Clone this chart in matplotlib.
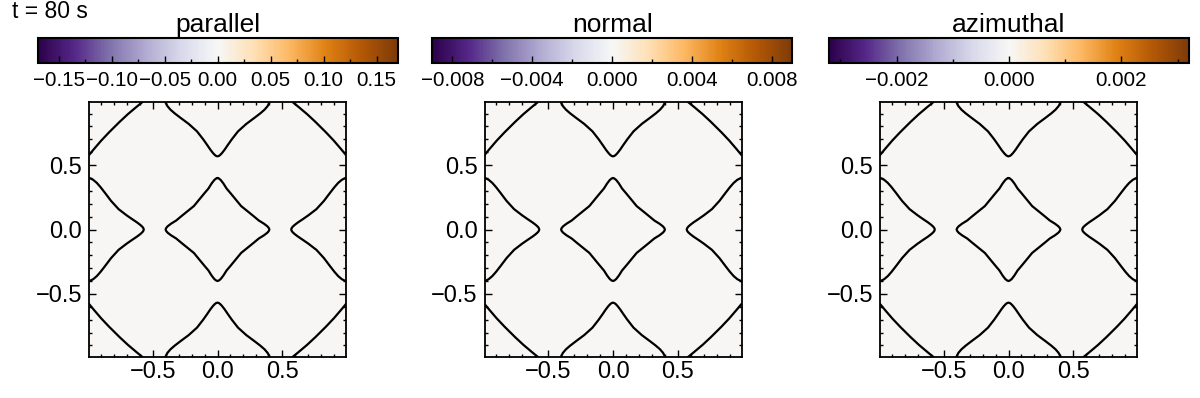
# -*- coding: utf-8 -*-
import numpy as np
import matplotlib
matplotlib.use('Agg')
import matplotlib.pyplot as plt
from matplotlib.colors import Normalize
from matplotlib.cm import ScalarMappable
from matplotlib.ticker import MultipleLocator

plt.rcParams['font.family'] = ['Liberation Sans', 'DejaVu Sans']

# ---- data ----
time_label = 't = 80 s'
titles = ['parallel', 'normal', 'azimuthal']
limits = [0.17, 0.009, 0.0032]

cb_major = [[-0.15, -0.10, -0.05, 0.0, 0.05, 0.10, 0.15],
            [-0.008, -0.004, 0.0, 0.004, 0.008],
            [-0.002, 0.0, 0.002]]
cb_labels = [['−0.15', '−0.10', '−0.05', '0.00', '0.05', '0.10', '0.15'],
             ['−0.008', '−0.004', '0.000', '0.004', '0.008'],
             ['−0.002', '0.000', '0.002']]
cb_minor = [[-0.125, -0.075, -0.025, 0.025, 0.075, 0.125],
            [-0.006, -0.002, 0.002, 0.006],
            [-0.003, -0.001, 0.001, 0.003]]

# field shown in the panels (uniformly ~0)
field = np.array([[0.0, 0.0], [0.0, 0.0]])

# contour pieces, first quadrant
diamond_x = np.array([0.000, 0.012, 0.025, 0.045, 0.070, 0.102, 0.138, 0.182,
                      0.236, 0.280, 0.318, 0.358, 0.384, 0.395, 0.400])
diamond_y = np.array([0.400, 0.395, 0.384, 0.358, 0.318, 0.280, 0.236, 0.182,
                      0.138, 0.102, 0.070, 0.045, 0.025, 0.012, 0.000])

arc_x = np.array([0.000, 0.010, 0.020, 0.035, 0.055, 0.080, 0.110, 0.158,
                  0.222, 0.286, 0.330, 0.362, 0.386, 0.402])
arc_y = np.array([0.568, 0.571, 0.578, 0.594, 0.620, 0.657, 0.700, 0.762,
                  0.820, 0.868, 0.902, 0.930, 0.958, 0.990])

corner_x = np.array([0.578, 0.623, 0.690, 0.754, 0.795, 0.836, 0.896, 0.953, 0.990])
corner_y = np.array([0.990, 0.953, 0.896, 0.836, 0.795, 0.754, 0.690, 0.623, 0.578])

ticks_main = [-0.5, 0.0, 0.5]
ticks_main_lab = ['−0.5', '0.0', '0.5']
ext = 0.99

W, H = 1200.0, 398.0
fig = plt.figure(figsize=(12, 3.98), dpi=100)

panel_left = [89, 484.5, 880]
cbar_left = [37.7, 432.3, 829]

fig.text(12 / W, 1 - 17.5 / H, time_label, fontsize=16.5, va='baseline', ha='left')

cmap = plt.get_cmap('PuOr_r')

for i in range(3):
    lim = limits[i]
    ax = fig.add_axes([panel_left[i] / W, 1 - 357 / H, 257 / W, 255 / H])
    ax.imshow(field, cmap=cmap, vmin=-lim, vmax=lim, origin='lower',
              extent=[-ext, ext, -ext, ext], aspect='auto', interpolation='nearest')

    kw = dict(color='black', lw=1.6, solid_capstyle='round', solid_joinstyle='round')
    # central diamond
    dx = np.concatenate([diamond_x, diamond_x[::-1], -diamond_x, -diamond_x[::-1]])
    dy = np.concatenate([diamond_y, -diamond_y[::-1], -diamond_y, diamond_y[::-1]])
    ax.plot(dx, dy, **kw)
    # top / bottom arcs
    vx = np.concatenate([-arc_x[::-1], arc_x])
    vy = np.concatenate([arc_y[::-1], arc_y])
    ax.plot(vx, vy, **kw)
    ax.plot(vx, -vy, **kw)
    # left / right arcs
    ax.plot(vy, vx, **kw)
    ax.plot(-vy, vx, **kw)
    # corners
    for sx in (1, -1):
        for sy in (1, -1):
            ax.plot(sx * corner_x, sy * corner_y, **kw)

    ax.set_xlim(-ext, ext)
    ax.set_ylim(-ext, ext)
    ax.set_xticks(ticks_main)
    ax.set_xticklabels(ticks_main_lab)
    ax.set_yticks(ticks_main)
    ax.set_yticklabels(ticks_main_lab)
    ax.xaxis.set_minor_locator(MultipleLocator(0.1))
    ax.yaxis.set_minor_locator(MultipleLocator(0.1))
    ax.tick_params(which='both', direction='in', top=True, right=True,
                   width=1.0, labelsize=17)
    ax.tick_params(which='major', length=5)
    ax.tick_params(which='minor', length=2.5)
    ax.tick_params(axis='x', pad=3)
    ax.tick_params(axis='y', pad=5)
    for s in ax.spines.values():
        s.set_linewidth(1.3)

    # colour bar
    cax = fig.add_axes([cbar_left[i] / W, 1 - 63 / H, 360 / W, 25 / H])
    sm = ScalarMappable(norm=Normalize(-lim, lim), cmap=cmap)
    cb = fig.colorbar(sm, cax=cax, orientation='horizontal')
    cb.set_ticks(cb_major[i], labels=cb_labels[i])
    cb.set_ticks(cb_minor[i], minor=True)
    cb.outline.set_linewidth(1.5)
    cax.tick_params(which='both', direction='in', bottom=True, top=False,
                    width=1.0, labelsize=14.8, pad=6)
    cax.tick_params(which='major', length=5)
    cax.tick_params(which='minor', length=3)

    cx = (cbar_left[i] + 180) / W
    fig.text(cx, 1 - 32 / H, titles[i], fontsize=19, ha='center', va='baseline')

fig.savefig('out.png', dpi=100)
